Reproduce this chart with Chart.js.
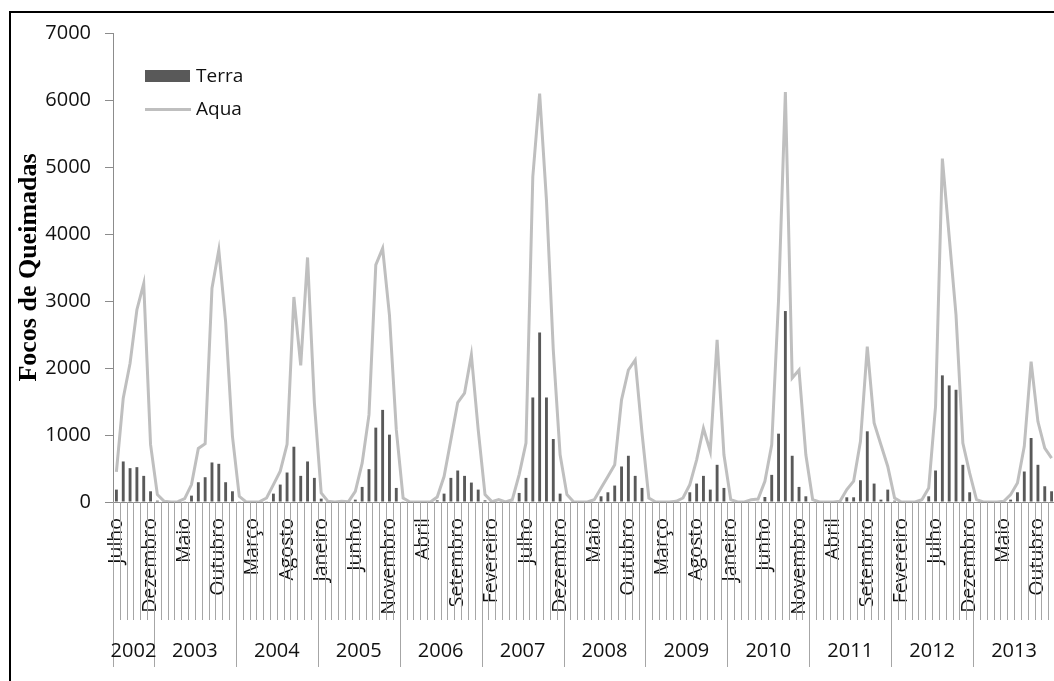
<!DOCTYPE html>
<html lang="pt">
<head>
    <meta charset="UTF-8">
    <title>Focos de Queimadas - Terra e Aqua</title>
    <style>
        body { margin: 0; background: #fff; overflow: hidden; }
        #wrap { position: relative; width: 1054px; height: 681px; overflow: hidden; }
        #frame { position: absolute; left: 9px; top: 11px; width: 1100px; height: 720px; border: 2px solid #000; }
        #box { position: absolute; left: 0; top: 0; width: 1070px; height: 681px; }
        .leg { position: absolute; font: 19px "Open Sans", sans-serif; color: #111; line-height: 1; }
        .sw { position: absolute; }
    </style>
    <script src="https://cdn.jsdelivr.net/npm/chart.js"></script>
</head>
<body>
<div id="wrap">
    <div id="frame"></div>
    <div id="box"><canvas id="chart"></canvas></div>
    <div class="sw" style="left:145px; top:70px; width:45px; height:12px; background:#595959;"></div>
    <div class="leg" style="left:196px; top:66px;">Terra</div>
    <div class="sw" style="left:145px; top:108px; width:46px; height:3px; background:#bfbfbf;"></div>
    <div class="leg" style="left:196px; top:99px;">Aqua</div>
</div>

<script>
    // meses e anos da série (julho/2002 a dezembro/2013)
    const meses = ['Janeiro', 'Fevereiro', 'Março', 'Abril', 'Maio', 'Junho',
                   'Julho', 'Agosto', 'Setembro', 'Outubro', 'Novembro', 'Dezembro'];
    const anos = [2002, 2003, 2004, 2005, 2006, 2007, 2008, 2009, 2010, 2011, 2012, 2013];
    const mesInicial = 6; // julho de 2002
    const passoRotulo = 5; // um rótulo de mês a cada 5

    // focos detectados pelo satélite Terra (barras)
    const terra = [
        185, 605, 505, 520, 390, 160,
        20, 0, 0, 0, 10, 95, 295, 370, 590, 570, 295, 160,
        10, 0, 0, 0, 10, 125, 260, 440, 825, 390, 605, 360,
        50, 0, 0, 0, 10, 35, 225, 490, 1110, 1375, 1005, 210,
        10, 0, 0, 0, 0, 25, 125, 360, 470, 390, 290, 185,
        25, 0, 0, 0, 5, 135, 360, 1560, 2530, 1560, 940, 125,
        0, 0, 0, 0, 0, 85, 145, 245, 530, 690, 390, 210,
        0, 0, 0, 0, 0, 0, 145, 275, 390, 185, 555, 210,
        0, 0, 0, 0, 10, 75, 405, 1020, 2850, 690, 225, 85,
        0, 0, 0, 0, 0, 70, 70, 325, 1055, 275, 35, 185,
        20, 0, 0, 0, 0, 85, 470, 1890, 1740, 1675, 555, 145,
        0, 0, 0, 0, 0, 35, 145, 455, 955, 555, 235, 160
    ];

    // focos detectados pelo satélite Aqua (linha)
    const aqua = [
        450, 1550, 2070, 2870, 3260, 860,
        110, 10, 0, 5, 50, 260, 800, 870, 3190, 3760, 2690, 980,
        85, 0, 0, 5, 60, 260, 460, 860, 3060, 2040, 3650, 1480,
        135, 10, 0, 10, 5, 160, 580, 1300, 3540, 3785, 2790, 1080,
        60, 0, 0, 0, 0, 75, 380, 930, 1485, 1625, 2195, 1080,
        110, 5, 35, 0, 35, 410, 880, 4855, 6095, 4505, 2270, 705,
        110, 0, 0, 0, 35, 210, 380, 555, 1525, 1970, 2120, 1030,
        60, 0, 0, 0, 10, 60, 260, 630, 1100, 755, 2420, 705,
        35, 0, 0, 35, 45, 310, 855, 3015, 6120, 1850, 1970, 705,
        35, 0, 0, 0, 10, 185, 310, 905, 2320, 1180, 855, 530,
        60, 0, 0, 0, 35, 210, 1425, 5125, 3960, 2790, 880, 430,
        35, 0, 0, 0, 10, 110, 285, 830, 2095, 1200, 805, 655
    ];

    // categorias: um rótulo por mês, com o ano de cada um
    const categorias = [];
    const anoDoMes = [];
    for (let i = 0; i < terra.length; i++) {
        const m = (mesInicial + i) % 12;
        categorias.push(meses[m]);
        anoDoMes.push(anos[Math.floor((mesInicial + i) / 12)]);
    }

    const fonte = '"Open Sans", sans-serif';
    const corTexto = '#111';
    const corEixo = '#8c8c8c';

    // divisões dos meses, divisões dos anos e rótulos dos anos abaixo do eixo x
    const eixoAgrupado = {
        id: 'eixoAgrupado',
        afterDraw(chart) {
            const x = chart.scales.x;
            const ctx = chart.ctx;
            const base = chart.chartArea.bottom;
            const meia = (x.getPixelForValue(1) - x.getPixelForValue(0)) / 2;
            ctx.save();
            ctx.strokeStyle = '#a6a6a6';
            ctx.lineWidth = 1;
            for (let i = 0; i <= categorias.length; i++) {
                const px = Math.round((i < categorias.length ? x.getPixelForValue(i) - meia : x.getPixelForValue(i - 1) + meia)) + 0.5;
                const novoAno = i === 0 || i === categorias.length || anoDoMes[i] !== anoDoMes[i - 1];
                ctx.beginPath();
                ctx.moveTo(px, base);
                ctx.lineTo(px, base + (novoAno ? 165 : 118));
                ctx.stroke();
            }
            ctx.fillStyle = corTexto;
            ctx.font = '20px ' + fonte;
            ctx.textAlign = 'center';
            ctx.textBaseline = 'middle';
            anos.forEach(ano => {
                const idx = anoDoMes.map((a, i) => a === ano ? i : -1).filter(i => i >= 0);
                const ini = x.getPixelForValue(idx[0]) - meia;
                const fim = x.getPixelForValue(idx[idx.length - 1]) + meia;
                ctx.fillText(String(ano), (ini + fim) / 2, base + 149);
            });
            ctx.restore();
        }
    };

    new Chart(document.getElementById('chart'), {
        data: {
            labels: categorias,
            datasets: [
                {
                    type: 'line',
                    label: 'Aqua',
                    data: aqua,
                    borderColor: '#bfbfbf',
                    borderWidth: 3,
                    pointRadius: 0,
                    tension: 0,
                    order: 0
                },
                {
                    type: 'bar',
                    label: 'Terra',
                    data: terra,
                    backgroundColor: '#595959',
                    categoryPercentage: 1,
                    barPercentage: 0.42,
                    order: 1
                }
            ]
        },
        options: {
            responsive: true,
            maintainAspectRatio: false,
            animation: false,
            layout: { padding: { left: 10, top: 33, right: 15, bottom: 0 } },
            plugins: {
                legend: { display: false },
                tooltip: { enabled: false }
            },
            scales: {
                x: {
                    type: 'category',
                    offset: true,
                    grid: { display: true, drawOnChartArea: false, drawTicks: false, color: 'rgba(0,0,0,0)' },
                    border: { display: true, color: corEixo, width: 1 },
                    ticks: {
                        autoSkip: false,
                        minRotation: 90,
                        maxRotation: 90,
                        padding: 16,
                        color: corTexto,
                        font: { family: fonte, size: 19.5 },
                        callback: (v, i) => i % passoRotulo === 0 ? categorias[i] : ''
                    },
                    afterFit: s => {
                        s.height = 179;
                        s.paddingLeft = 0;
                        s.paddingRight = 0;
                    }
                },
                y: {
                    min: 0,
                    max: 7000,
                    grid: { display: true, drawOnChartArea: false, drawTicks: true, tickLength: 8, color: corEixo },
                    border: { display: true, color: corEixo, width: 1 },
                    ticks: {
                        stepSize: 1000,
                        padding: 14,
                        color: corTexto,
                        font: { family: fonte, size: 20 },
                        callback: v => String(v)
                    },
                    title: {
                        display: true,
                        text: 'Focos de Queimadas',
                        color: '#000',
                        font: { family: '"Liberation Serif", "Times New Roman", serif', size: 26, weight: 'bold' },
                        padding: { top: 4, bottom: 0 }
                    },
                    afterFit: s => { s.width = 103; }
                }
            }
        },
        plugins: [eixoAgrupado]
    });
</script>
</body>
</html>
